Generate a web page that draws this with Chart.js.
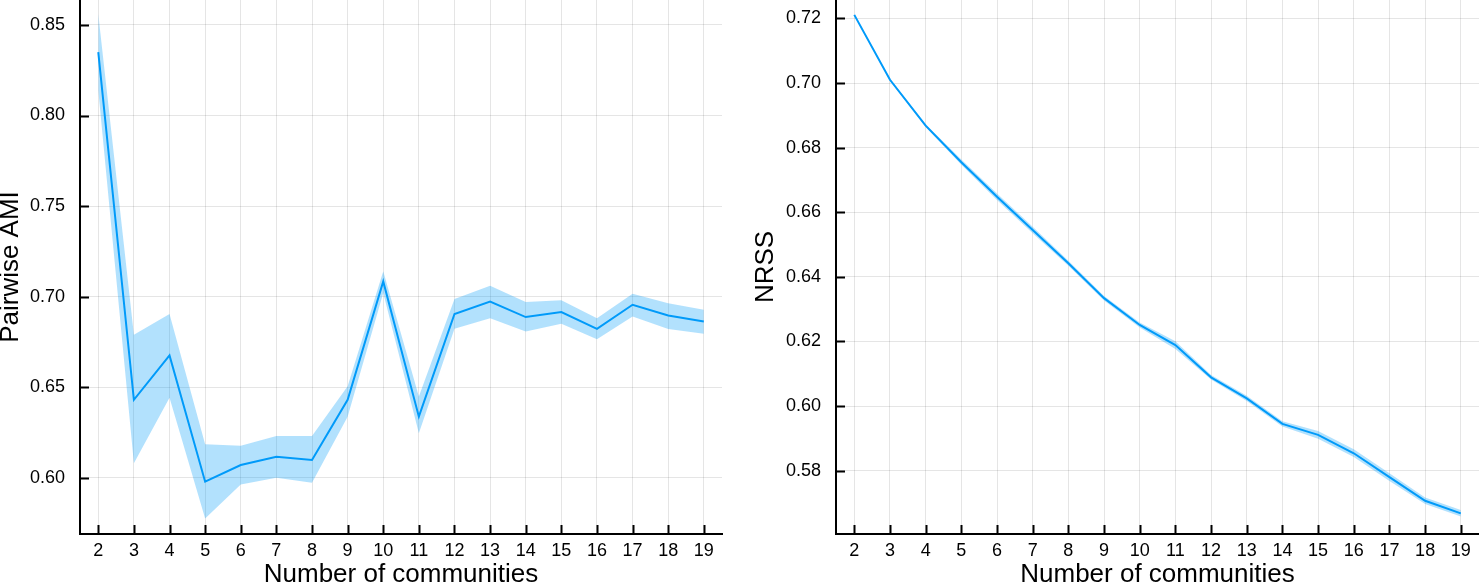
<!DOCTYPE html>
<html>
<head>
<meta charset="utf-8">
<script src="https://cdn.jsdelivr.net/npm/chart.js@4/dist/chart.umd.min.js"></script>
<style>
  html, body { margin: 0; padding: 0; background: #fff; overflow: hidden; }
  #c1 { position: absolute; left: 0; top: 0; }
  #c2 { position: absolute; left: 740px; top: 0; }
</style>
</head>
<body>
<canvas id="c1" width="740" height="584"></canvas>
<canvas id="c2" width="739" height="584"></canvas>
<script>
// ---- data ----
const communities = [2,3,4,5,6,7,8,9,10,11,12,13,14,15,16,17,18,19];
const xTicks = [2,3,4,5,6,7,8,9,10,11,12,13,14,15,16,17,18,19];

const amiMean  = [0.835,0.643,0.6675,0.5978,0.607,0.6116,0.6098,0.643,0.7084,0.6337,0.6904,0.6973,0.6887,0.6915,0.6822,0.6955,0.6896,0.6863];
const amiUpper = [0.856,0.679,0.6904,0.6185,0.6177,0.623,0.623,0.6505,0.714,0.6448,0.6987,0.706,0.697,0.698,0.6881,0.7016,0.6964,0.6927];
const amiLower = [0.814,0.608,0.6442,0.5775,0.5963,0.600,0.5972,0.6337,0.702,0.6245,0.6822,0.6881,0.6807,0.685,0.6765,0.689,0.6821,0.6795];
const amiTicks = [0.60,0.65,0.70,0.75,0.80,0.85];

const nrssMean  = [0.7211,0.7010,0.6868,0.6755,0.6648,0.6545,0.6442,0.6334,0.6251,0.6189,0.6089,0.6024,0.5945,0.5911,0.5854,0.5780,0.5707,0.5668];
const nrssUpper = [0.7214,0.7013,0.6872,0.6763,0.6658,0.6555,0.6450,0.6341,0.6259,0.6201,0.6096,0.6032,0.5953,0.5923,0.5866,0.5792,0.5717,0.5678];
const nrssLower = [0.7208,0.7007,0.6864,0.6747,0.6638,0.6535,0.6434,0.6327,0.6243,0.6177,0.6082,0.6016,0.5937,0.5899,0.5842,0.5768,0.5697,0.5658];
const nrssTicks = [0.58,0.60,0.62,0.64,0.66,0.68,0.70,0.72];

// ---- style ----
const FONT = "'Liberation Sans', Arial, Helvetica, sans-serif";
const LINE = '#009AFA';
const BAND = 'rgba(0,154,250,0.3)';
const GRID = 'rgba(0,0,0,0.1)';

const inwardTicks = {
  id: 'inwardTicks',
  afterDatasetsDraw(chart) {
    const {ctx, chartArea: a, scales: {x, y}} = chart;
    ctx.save();
    ctx.strokeStyle = '#000';
    ctx.lineWidth = 2;
    ctx.beginPath();
    x.ticks.forEach(t => {
      const px = Math.round(x.getPixelForValue(t.value)) + 0.5;
      ctx.moveTo(px, a.bottom);
      ctx.lineTo(px, a.bottom - 9);
    });
    y.ticks.forEach(t => {
      const py = Math.round(y.getPixelForValue(t.value)) + 0.5;
      ctx.moveTo(a.left, py);
      ctx.lineTo(a.left + 9, py);
    });
    ctx.stroke();
    ctx.restore();
  }
};

function pts(xs, ys) { return xs.map((v, i) => ({x: v, y: ys[i]})); }

function zeroPad(s) { s.paddingTop = 0; s.paddingBottom = 0; s.paddingLeft = 0; s.paddingRight = 0; }

function makeChart(id, mean, upper, lower, yTicks, yMin, yMax, yTitle, yWidth, yTitlePad, rightPad) {
  return new Chart(document.getElementById(id), {
    type: 'line',
    data: {
      datasets: [
        { data: pts(communities, lower), borderWidth: 0, pointRadius: 0, fill: false, backgroundColor: BAND },
        { data: pts(communities, upper), borderWidth: 0, pointRadius: 0, fill: '-1', backgroundColor: BAND },
        { data: pts(communities, mean), borderColor: LINE, borderWidth: 2, pointRadius: 0, fill: false, tension: 0 }
      ]
    },
    options: {
      responsive: false,
      animation: false,
      devicePixelRatio: 1,
      layout: { padding: { left: 0, right: rightPad, top: 0, bottom: 0 } },
      plugins: { legend: { display: false }, tooltip: { enabled: false } },
      scales: {
        x: {
          type: 'linear',
          min: 1.487, max: 19.51,
          afterBuildTicks: s => { s.ticks = xTicks.map(v => ({value: v})); },
          afterFit: s => { s.height = 50; zeroPad(s); },
          grid: { color: GRID, lineWidth: 1, drawTicks: false },
          border: { display: true, color: '#000', width: 2 },
          ticks: { color: '#000', font: { family: FONT, size: 18 }, padding: 6, maxRotation: 0, autoSkip: false,
                   callback: v => String(v) },
          title: { display: true, text: 'Number of communities', color: '#000',
                   font: { family: FONT, size: 26, lineHeight: 1 }, padding: { top: 0, bottom: -4 } }
        },
        y: {
          type: 'linear',
          min: yMin, max: yMax,
          afterBuildTicks: s => { s.ticks = yTicks.map(v => ({value: v})); },
          afterFit: s => { s.width = yWidth; zeroPad(s); },
          grid: { color: GRID, lineWidth: 1, drawTicks: false },
          border: { display: true, color: '#000', width: 2 },
          ticks: { color: '#000', font: { family: FONT, size: 18 }, padding: 15,
                   callback: v => Number(v).toFixed(2) },
          title: { display: true, text: yTitle, color: '#000',
                   font: { family: FONT, size: 26, lineHeight: 1 }, padding: { top: yTitlePad, bottom: 0 } }
        }
      }
    },
    plugins: [inwardTicks]
  });
}

makeChart('c1', amiMean, amiUpper, amiLower, amiTicks, 0.5689, 0.8638, 'Pairwise AMI', 80, -2, 18);
makeChart('c2', nrssMean, nrssUpper, nrssLower, nrssTicks, 0.5604, 0.7257, 'NRSS', 96, 13, 0);
</script>
</body>
</html>
